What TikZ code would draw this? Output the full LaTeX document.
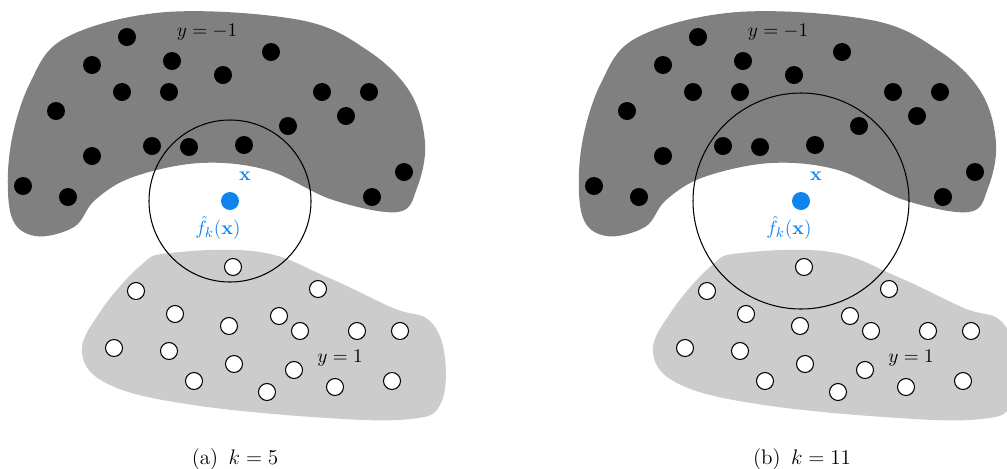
\documentclass[tikz,border=0pt]{standalone}
\usepackage{amsmath,amssymb}
\usepackage{tikz}
\usetikzlibrary{positioning,calc}
\usepackage{xcolor}
\definecolor{negcolor}{RGB}{128,128,128}
\definecolor{poscolor}{RGB}{204,204,204}
\definecolor{querycolor}{RGB}{16,132,238}

\begin{document}
\begin{tikzpicture}[
    x=0.02cm, y=-0.02cm,
    negdot/.style={circle, fill=black, inner sep=0pt, minimum size=0.36cm},
    posdot/.style={circle, draw=black, fill=white, line width=0.6pt, inner sep=0pt, minimum size=0.34cm},
    querydot/.style={circle, fill=querycolor, inner sep=0pt, minimum size=0.36cm},
    querylabel/.style={text=querycolor, inner sep=1pt, font=\fontsize{10.9}{13}\selectfont},
    classlabel/.style={inner sep=1pt, font=\fontsize{10.9}{13}\selectfont},
    caption/.style={font=\fontsize{12}{14}\selectfont},
    ball/.style={draw=black, line width=0.6pt}
]
\useasboundingbox (0,0) rectangle (1007,468);

\foreach \p/\dx/\r/\cx/\kval in {a/0/81/235/5, b/571/108/231/11} {
\begin{scope}[shift={(\dx,0)}]

% Class y = 1 (light region)
\fill[poscolor] plot[smooth cycle, tension=0.65] coordinates {
    (170,253) (260,252) (327,277) (393,308) (430,321) (445,358) (440,405)
    (410,419) (327,418) (193,405) (110,385) (82,353) (100,312) (140,266)};

% Class y = -1 (dark region)
\fill[negcolor] plot[smooth cycle, tension=0.6] coordinates {
    (67,37) (167,12) (300,20) (367,50) (410,92) (425,143) (417,188)
    (398,212) (333,200) (267,170) (200,163) (133,177) (95,200) (74,227)
    (35,236) (11,215) (10,150) (30,83)};

% Query point and its neighbourhood
\node[querydot] (query\p) at (230,201) {};
\draw[ball] (query\p.center) circle[radius=\r];

% Samples
\foreach \x/\y [count=\i] in {127/37, 92/65, 172/61, 223/75, 271/52, 122/92,
    169/92, 56/111, 322/92, 369/92, 346/116, 288/126, 152/146, 189/147,
    244/145, 92/156, 23/186, 68/197, 404/172, 372/197}
    \node[negdot] (neg\p\i) at (\x,\y) {};
\foreach \x/\y [count=\i] in {233/267, 136/291, 318/289, 175/314, 229/326,
    279/316, 300/331, 357/331, 400/331, 114/348, 169/351, 234/364, 294/370,
    194/381, 267/392, 335/387, 392/381}
    \node[posdot] (pos\p\i) at (\x,\y) {};

% Labels
\node[classlabel] (neglabel\p) at (207,32) {$y=-1$};
\node[classlabel] (poslabel\p) at (340,358) {$y=1$};
\node[querylabel] (xlabel\p) at (245,176) {$\mathbf{x}$};
\node[querylabel] (flabel\p) at (218,228) {$\hat{f}_k(\mathbf{x})$};
\node[caption] (caption\p) at (\cx,459) {(\p)\enspace$k=\kval$};

\end{scope}
}

\end{tikzpicture}
\end{document}
